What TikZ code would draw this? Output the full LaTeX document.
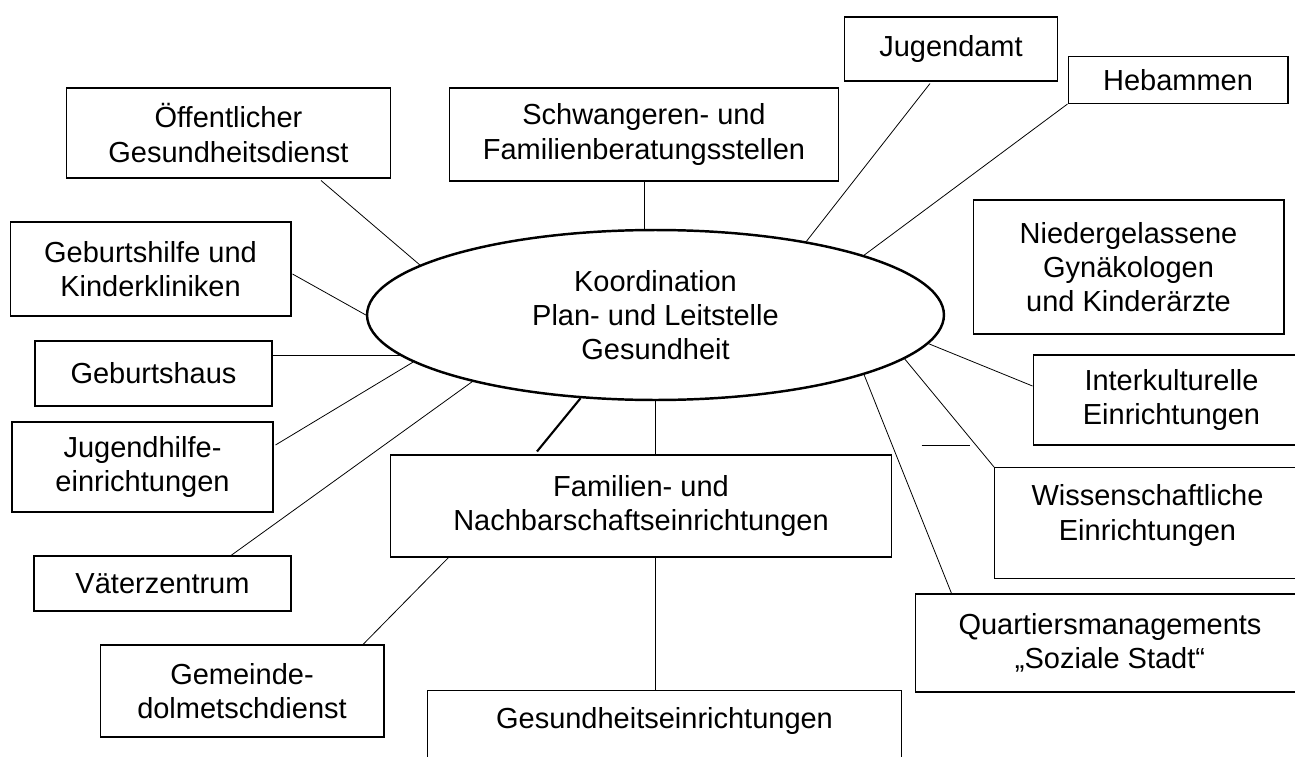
\documentclass[tikz,border=0pt]{standalone}
\usepackage{fontspec}
\setmainfont{Liberation Sans}
\usepackage{tikz}
\usetikzlibrary{calc,positioning,shapes.geometric}

\tikzset{
  box/.style={draw, rectangle, align=center, inner sep=0pt, line width=0.6pt},
  hub/.style={draw, ellipse, align=center, inner sep=0pt, line width=1.4pt},
  conn/.style={line width=0.45pt},
  thickconn/.style={line width=1.2pt}
}

\begin{document}
\begin{tikzpicture}[x=0.02cm, y=-0.02cm, font=\fontsize{16.5}{19.5}\selectfont]
		\useasboundingbox (0,0) rectangle (1295,757);
		\clip (0,0) rectangle (1295,757);

		\node[hub, minimum width=11.54cm, minimum height=3.4cm] (koord) at (655.5,315)
			{Koordination\\Plan- und Leitstelle\\Gesundheit};

		\node[box, minimum width=6.5cm,  minimum height=1.8cm]  (oeff)    at (228.5,133) {Öffentlicher\\Gesundheitsdienst};
		\node[box, minimum width=7.8cm,  minimum height=1.86cm] (schw)    at (644,134.5) {Schwangeren- und\\Familienberatungsstellen};
		\node[box, minimum width=4.26cm, minimum height=1.28cm] (jug)     at (951,49)    {Jugendamt};
		\node[box, minimum width=4.4cm,  minimum height=0.94cm] (heb)     at (1178,80)   {Hebammen};
		\node[box, minimum width=6.22cm, minimum height=2.68cm] (nied)    at (1128.5,267) {Niedergelassene\\Gynäkologen\\und Kinderärzte};
		\node[box, minimum width=5.62cm, minimum height=1.88cm] (gebh)    at (150.5,269) {Geburtshilfe und\\Kinderkliniken};
		\node[box, minimum width=4.74cm, minimum height=1.3cm]  (gebhaus) at (153.5,373.5) {Geburtshaus};
		\node[box, minimum width=5.22cm, minimum height=1.8cm]  (jugh)    at (142.5,467) {Jugendhilfe-\\einrichtungen};
		\node[box, minimum width=5.14cm, minimum height=1.1cm]  (vater)   at (162.5,583.5) {Väterzentrum};
		\node[box, minimum width=5.68cm, minimum height=1.84cm] (gem)     at (242,691)   {Gemeinde-\\dolmetschdienst};
		\node[box, minimum width=10.04cm, minimum height=2.04cm] (fam)    at (641,506)   {Familien- und\\Nachbarschaftseinrichtungen};
		\node[box, minimum width=9.48cm, anchor=north, inner ysep=0.3cm,
			text height=0.45cm, text depth=1.2cm] (gesund) at (664.5,690) {Gesundheitseinrichtungen};
		\node[box, minimum width=5.54cm, minimum height=1.8cm]  (inter)   at (1171.5,400) {Interkulturelle\\Einrichtungen};
		\node[box, minimum width=6.12cm, anchor=north west,
			text height=1.45cm, text depth=0.77cm] (wiss) at (994,467) {Wissenschaftliche\\Einrichtungen};
		\node[box, minimum width=7.8cm,  minimum height=1.96cm] (quart)   at (1110,643)  {Quartiersmanagements\\„Soziale Stadt“};

		\draw[conn] ($(oeff.south)+(92.5,2)$) -- (koord.168.8);
		\draw[conn] (schw.south) -- (schw.south |- koord.north);
		\draw[conn] ($(jug.south)+(-21,2)$) -- (koord.26.6);
		\draw[conn] (heb.south west) -- (koord.16.9);
		\draw[conn] ($(gebh.east)+(1,5)$) -- (koord.west);
		\draw[conn] (koord.189.5) -- (koord.189.5 -| gebhaus.east);
		\draw[conn] ($(jugh.east)+(2,-22)$) -- (koord.191.4);
		\draw[conn] ($(vater.north)+(68.5,0)$) -- (koord.200);
		\draw[thickconn] ($(fam.north)+(-104,-3)$) -- (koord.228);
		\draw[conn] (koord.south) -- (koord.south |- fam.north);
		\draw[conn] (fam.south -| koord.south) -- (gesund.north -| koord.south);
		\draw[conn] ($(fam.south west)+(59,0)$) -- ($(gem.north)+(121,0)$);
		\draw[conn] (koord.354.7) -- ($(inter.west)+(0,-14)$);
		\draw[conn] (koord.350.4) -- (wiss.north west);
		\draw[conn] (koord.344.7) -- ($(quart.north west)+(37,0)$);
		\draw[conn] ($(inter.south west)+(-111,0)$) -- ++(48,0);
	\end{tikzpicture}
\end{document}
